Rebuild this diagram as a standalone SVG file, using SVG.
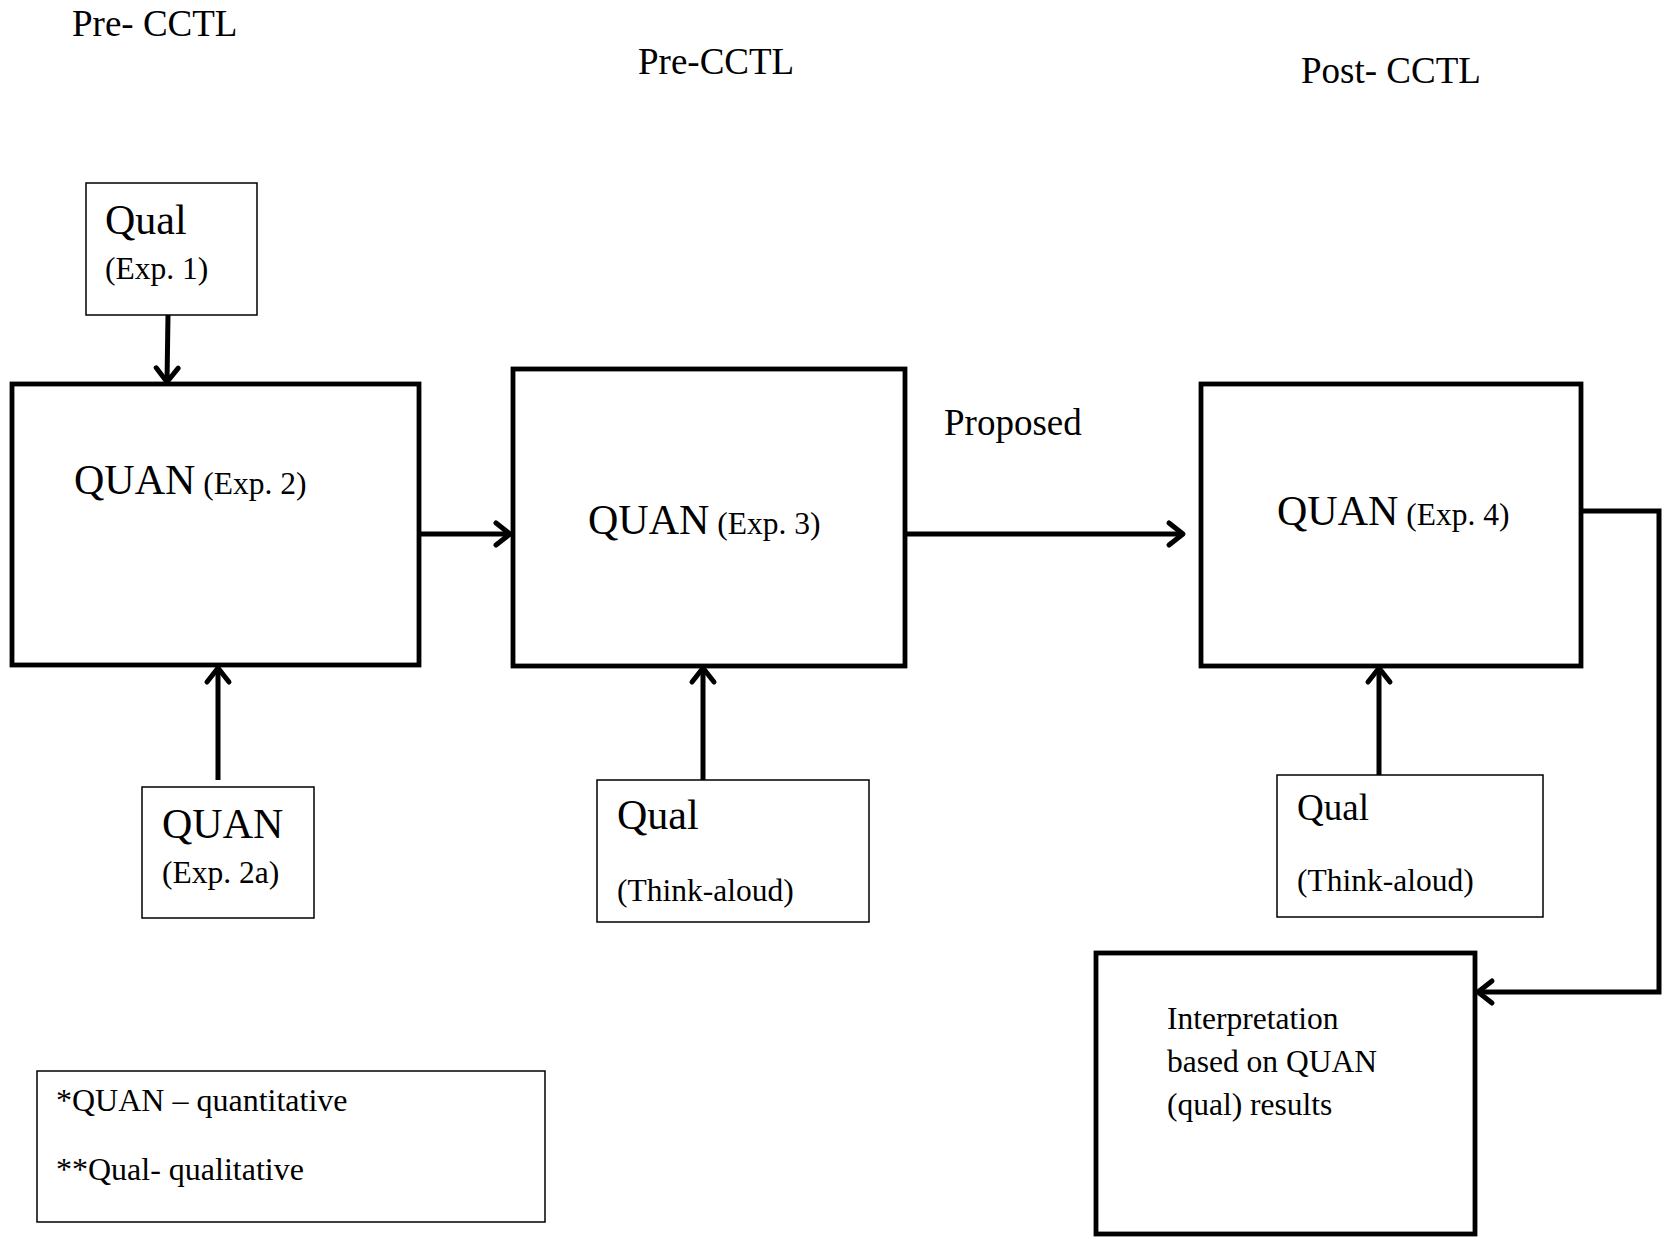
<svg xmlns="http://www.w3.org/2000/svg" width="1663" height="1237" viewBox="0 0 1663 1237">
  <style>
    text { font-family: "Liberation Serif", "Times New Roman", serif; fill: #000; }
    .big { font-size: 42px; }
    .small { font-size: 31.5px; }
    .head { font-size: 37px; }
    .legend { font-size: 32px; }
    .thick { fill: #fff; stroke: #000; stroke-width: 4.8; }
    .thin { fill: #fff; stroke: #000; stroke-width: 1.5; }
    .conn { fill: none; stroke: #000; stroke-width: 5; }
  </style>
  <defs>
    <marker id="arrow" markerUnits="userSpaceOnUse" markerWidth="30" markerHeight="30" viewBox="-20 -15 24 30" refX="0" refY="0" orient="auto">
      <path d="M -14 -11 L 0 0 L -14 11" fill="none" stroke="#000" stroke-width="5" stroke-linecap="round" stroke-linejoin="round"/>
    </marker>
  </defs>
  <rect width="1663" height="1237" fill="#fff"/>

  <!-- phase headings -->
  <text class="head" x="72" y="36">Pre- CCTL</text>
  <text class="head" x="638" y="74">Pre-CCTL</text>
  <text class="head" x="1301" y="83">Post- CCTL</text>
  <text class="head" x="944" y="435">Proposed</text>

  <!-- connectors -->
  <g id="connectors">
    <line class="conn" x1="168" y1="315" x2="167" y2="382" marker-end="url(#arrow)"/>
    <line class="conn" x1="419" y1="534" x2="510" y2="534" marker-end="url(#arrow)"/>
    <line class="conn" x1="905" y1="534" x2="1183" y2="534" marker-end="url(#arrow)"/>
    <line class="conn" x1="218" y1="780" x2="218" y2="668" marker-end="url(#arrow)"/>
    <line class="conn" x1="703" y1="780" x2="703" y2="668" marker-end="url(#arrow)"/>
    <line class="conn" x1="1379" y1="775" x2="1379" y2="668" marker-end="url(#arrow)"/>
    <polyline class="conn" points="1581,511 1659,511 1659,992 1478,992" marker-end="url(#arrow)"/>
  </g>

  <g id="qual-exp1">
    <rect class="thin" x="86" y="183" width="171" height="132"/>
    <text class="big" x="105" y="234">Qual</text>
    <text class="small" x="105" y="279">(Exp. 1)</text>
  </g>

  <g id="quan-exp2">
    <rect class="thick" x="12" y="384" width="407" height="281"/>
    <text x="74" y="494"><tspan class="big">QUAN</tspan><tspan class="small"> (Exp. 2)</tspan></text>
  </g>

  <g id="quan-exp3">
    <rect class="thick" x="513" y="369" width="392" height="297"/>
    <text x="588" y="534"><tspan class="big">QUAN</tspan><tspan class="small"> (Exp. 3)</tspan></text>
  </g>

  <g id="quan-exp4">
    <rect class="thick" x="1201" y="384" width="380" height="282"/>
    <text x="1277" y="525"><tspan class="big">QUAN</tspan><tspan class="small"> (Exp. 4)</tspan></text>
  </g>

  <g id="quan-exp2a">
    <rect class="thin" x="142" y="787" width="172" height="131"/>
    <text class="big" x="162" y="838">QUAN</text>
    <text class="small" x="162" y="883">(Exp. 2a)</text>
  </g>

  <g id="qual-think-aloud-3">
    <rect class="thin" x="597" y="780" width="272" height="142"/>
    <text class="big" x="617" y="829">Qual</text>
    <text class="small" x="617" y="901">(Think-aloud)</text>
  </g>

  <g id="qual-think-aloud-4">
    <rect class="thin" x="1277" y="775" width="266" height="142"/>
    <text class="head" x="1297" y="820">Qual</text>
    <text class="small" x="1297" y="891">(Think-aloud)</text>
  </g>

  <g id="interpretation">
    <rect class="thick" x="1096" y="953" width="379" height="281"/>
    <text class="small" x="1167" y="1029">Interpretation</text>
    <text class="small" x="1167" y="1072">based on QUAN</text>
    <text class="small" x="1167" y="1115">(qual) results</text>
  </g>

  <g id="legend">
    <rect class="thin" x="37" y="1071" width="508" height="151"/>
    <text class="legend" x="56" y="1111">*QUAN – quantitative</text>
    <text class="legend" x="56" y="1180">**Qual- qualitative</text>
  </g>
</svg>
